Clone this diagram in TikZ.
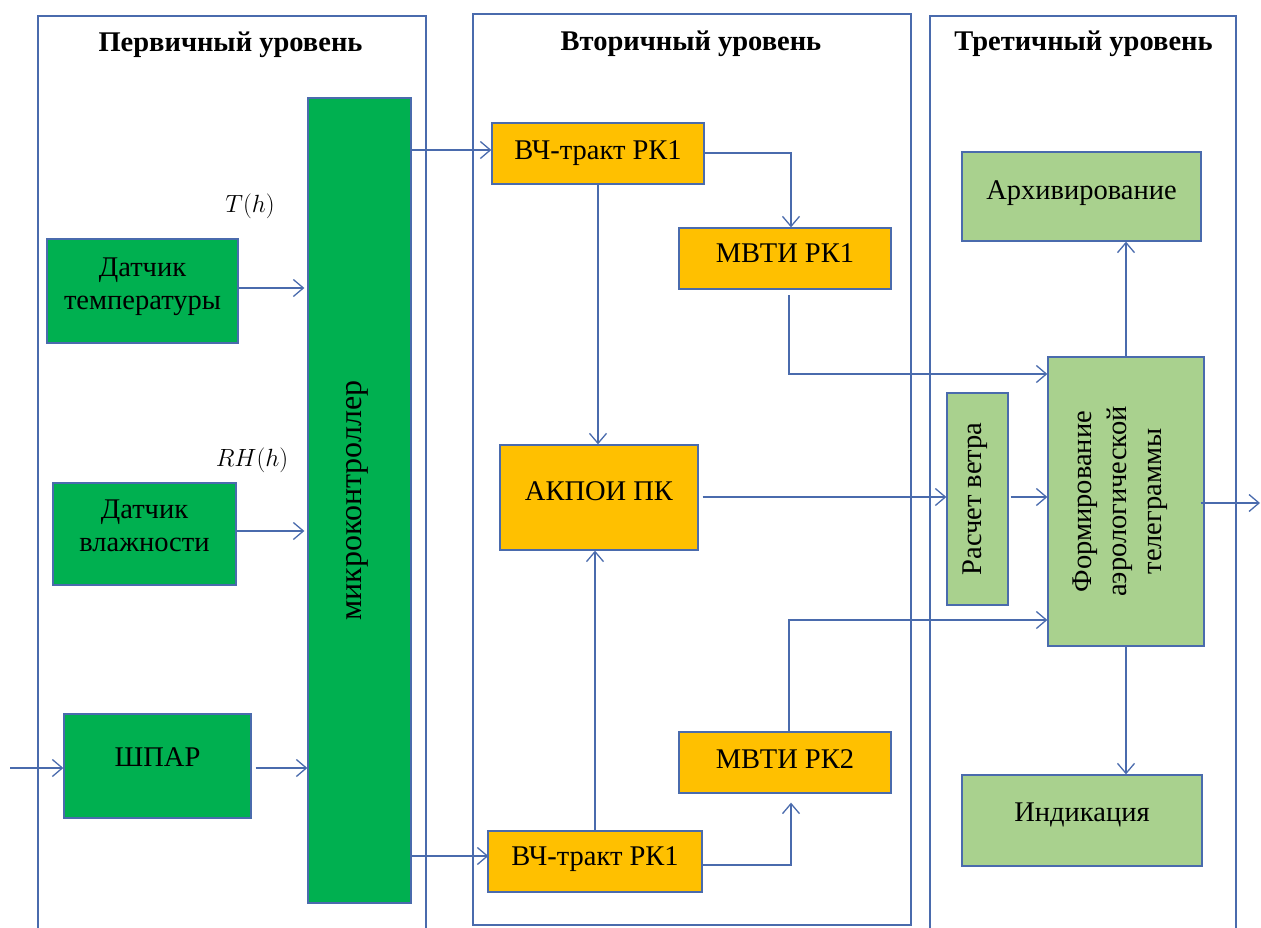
\documentclass[tikz,border=0pt]{standalone}
\usepackage{fontspec}
\setmainfont{Liberation Serif}
\usetikzlibrary{arrows.meta}
\definecolor{edge}{HTML}{4A6BAD}
\definecolor{dgreen}{HTML}{00B050}
\definecolor{amber}{HTML}{FFC000}
\definecolor{lgreen}{HTML}{A9D18E}
\begin{document}
\begin{tikzpicture}[x=1pt,y=-1pt,
  every node/.style={font=\fontsize{28.5}{33}\selectfont},
  box/.style={draw=edge, line width=1.3pt, inner sep=0pt, align=center},
  oneline/.style={text height=19pt},
  lift/.style={text depth=#1},
  panel/.style={draw=edge, line width=1.3pt},
  title/.style={font=\fontsize{28.5}{32}\selectfont\bfseries},
  sig/.style={font=\fontsize{24}{28}\selectfont},
  arr/.style={draw=edge, line width=1.3pt, -{Straight Barb[length=10pt,width=17pt]}}]
\useasboundingbox (0,0) rectangle (1261,927);

% level frames
\draw[panel] (38,16) rectangle (426,945);
\draw[panel] (473,14) rectangle (911,925);
\draw[panel] (930,16) rectangle (1236,945);

\node[title] (t1) at (230.5,45) {Первичный уровень};
\node[title] (t2) at (691,44) {Вторичный уровень};
\node[title] (t3) at (1083.5,44) {Третичный уровень};

% primary level
\node[box, fill=dgreen, minimum width=191pt, minimum height=104pt, lift=14pt] (dT) at (142.5,291) {Датчик\\температуры};
\node[box, fill=dgreen, minimum width=183pt, minimum height=102pt, lift=16pt] (dH) at (144.5,534) {Датчик\\влажности};
\node[box, fill=dgreen, minimum width=187pt, minimum height=104pt, oneline, lift=18pt] (shpar) at (157.5,766) {ШПАР};
\node[box, fill=dgreen, rotate=90, minimum width=805pt, minimum height=103pt, oneline, lift=16pt,
      font=\fontsize{32}{36}\selectfont] (micro) at (359.5,500.5) {микроконтроллер};
\node[sig] (Th) at (250,206) {$T(h)$};
\node[sig] (RHh) at (252,460) {$RH(h)$};

% secondary level
\node[box, fill=amber, minimum width=212pt, minimum height=61pt, oneline, lift=8pt] (vch1) at (598,153.5) {ВЧ-тракт РК1};
\node[box, fill=amber, minimum width=212pt, minimum height=61pt, oneline, lift=12pt] (mvti1) at (785,258.5) {МВТИ РК1};
\node[box, fill=amber, minimum width=198pt, minimum height=105pt, oneline, lift=14pt] (akpoi) at (599,497.5) {АКПОИ ПК};
\node[box, fill=amber, minimum width=212pt, minimum height=61pt, oneline, lift=8pt] (mvti2) at (785,762.5) {МВТИ РК2};
\node[box, fill=amber, minimum width=214pt, minimum height=61pt, oneline, lift=12pt] (vch2) at (595,861.5) {ВЧ-тракт РК1};

% tertiary level (rotated boxes: north = left side, south = right side)
\node[box, fill=lgreen, minimum width=239pt, minimum height=89pt, oneline, lift=14pt] (arch) at (1081.5,196.5) {Архивирование};
\node[box, fill=lgreen, rotate=90, minimum width=212pt, minimum height=61pt, oneline, lift=11pt] (wind) at (977.5,499) {Расчет ветра};
\node[box, fill=lgreen, rotate=90, minimum width=289pt, minimum height=156pt, lift=18pt,
      font=\fontsize{28.5}{35}\selectfont] (form) at (1126,501.5) {Формирование\\аэрологической\\телеграммы};
\node[box, fill=lgreen, minimum width=240pt, minimum height=91pt, oneline, lift=18pt] (ind) at (1082,820.5) {Индикация};

% free ends of the outer signals
\coordinate (src) at (10,768);
\coordinate (dst) at (1260,503);

% sensors into the microcontroller
\draw[arr] (src) -- (src -| shpar.west);
\draw[arr] ([xshift=4pt]shpar.east |- src) -- (micro.north |- src);
\draw[arr] (dT.east |- 0,288) -- ([xshift=-3pt]micro.north |- 0,288);
\draw[arr] (dH.east |- 0,531) -- ([xshift=-3pt]micro.north |- 0,531);

% microcontroller to the radio paths
\draw[arr] (micro.south |- 0,150) -- (vch1.west |- 0,150);
\draw[arr] (micro.south |- 0,856) -- ([xshift=1pt]vch2.west |- 0,856);

% secondary level links
\coordinate (k1) at (791,153);
\draw[arr] (vch1.east |- k1) -- (k1) -- (k1 |- mvti1.north);
\draw[arr] (vch1.south) -- (vch1.south |- akpoi.north);
\draw[arr] (vch2.north) -- (vch2.north |- akpoi.south);
\coordinate (k2) at (791,865);
\draw[arr] (vch2.east |- k2) -- (k2) -- ([yshift=-9pt]k2 |- mvti2.south);

% secondary to tertiary
\coordinate (k3) at (789,374);
\draw[arr] (k3 |- 0,295) -- (k3) -- (form.north |- k3);
\coordinate (k4) at (789,620);
\draw[arr] (k4 |- mvti2.north) -- (k4) -- (form.north |- k4);
\draw[arr] ([xshift=4pt]akpoi.east |- 0,497) -- (wind.north |- 0,497);
\draw[arr] ([xshift=2pt]wind.south |- 0,497) -- (form.north |- 0,497);

% tertiary outputs
\draw[arr] (form.east) -- (form.east |- arch.south);
\draw[arr] (form.west) -- (form.west |- ind.north);
\draw[arr] ([xshift=-4pt]form.south |- dst) -- (dst);
\end{tikzpicture}
\end{document}
